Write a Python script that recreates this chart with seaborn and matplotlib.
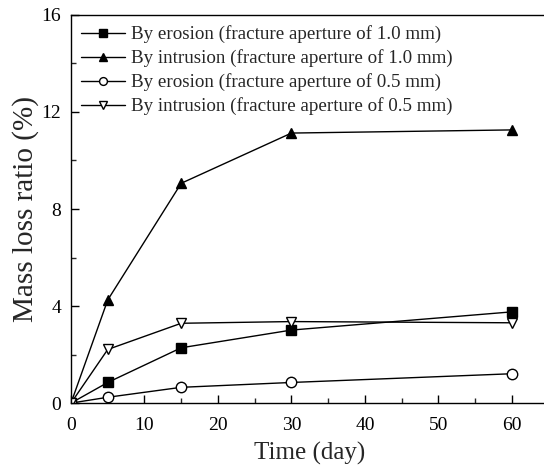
import matplotlib
matplotlib.use("Agg")
import matplotlib.pyplot as plt
import seaborn as sns
import pandas as pd
from matplotlib.ticker import MultipleLocator

# Values
days = [0, 5, 15, 30, 60]
erosion_10 = [0, 0.85, 2.28, 3.01, 3.76]
intrusion_10 = [0, 4.25, 9.06, 11.13, 11.26]
erosion_05 = [0, 0.24, 0.65, 0.85, 1.21]
intrusion_05 = [0, 2.21, 3.29, 3.36, 3.31]

labels = [
    "By erosion (fracture aperture of 1.0 mm)",
    "By intrusion (fracture aperture of 1.0 mm)",
    "By erosion (fracture aperture of 0.5 mm)",
    "By intrusion (fracture aperture of 0.5 mm)",
]
series = [erosion_10, intrusion_10, erosion_05, intrusion_05]

rows = []
for lab, vals in zip(labels, series):
    for d, v in zip(days, vals):
        rows.append({"Time": d, "Mass loss": v, "Group": lab})
df = pd.DataFrame(rows)

sns.set_style("ticks")
plt.rcParams["font.family"] = ["Liberation Serif", "DejaVu Serif"]

fig = plt.figure(figsize=(5.44, 4.66), dpi=100)
ax = fig.add_axes([0.1305, 0.135, 0.878, 0.833])

marker_styles = {
    labels[0]: ("s", "black"),
    labels[1]: ("^", "black"),
    labels[2]: ("o", "white"),
    labels[3]: ("v", "white"),
}

for lab in labels:
    sub = df[df["Group"] == lab]
    m, fc = marker_styles[lab]
    sns.lineplot(data=sub, x="Time", y="Mass loss", ax=ax, color="black",
                 linewidth=1.0, marker=m, markersize=7.5, markerfacecolor=fc,
                 markeredgecolor="black", markeredgewidth=1.0, label=lab)

ax.set_xlim(0, 65)
ax.set_ylim(0, 16)
ax.xaxis.set_major_locator(MultipleLocator(10))
ax.xaxis.set_minor_locator(MultipleLocator(5))
ax.yaxis.set_major_locator(MultipleLocator(4))
ax.yaxis.set_minor_locator(MultipleLocator(2))
ax.tick_params(which="major", direction="in", length=6, width=1, labelsize=14, colors="black")
ax.tick_params(axis="x", which="major", pad=10)
ax.tick_params(axis="y", which="major", pad=7)
ax.tick_params(which="minor", direction="in", length=3.5, width=1)
for s in ax.spines.values():
    s.set_linewidth(1.0)
    s.set_color("black")

ax.set_xlabel("Time (day)", fontsize=18, labelpad=6)
ax.set_ylabel("Mass loss ratio (%)", fontsize=21, labelpad=2)

ax.legend(loc="upper left", frameon=False, fontsize=13.7, handlelength=2.3,
          handletextpad=0.3, labelspacing=0.32, borderaxespad=0.15,
          markerscale=0.75, bbox_to_anchor=(0.0, 1.0))

fig.savefig("out.png", dpi=100)
